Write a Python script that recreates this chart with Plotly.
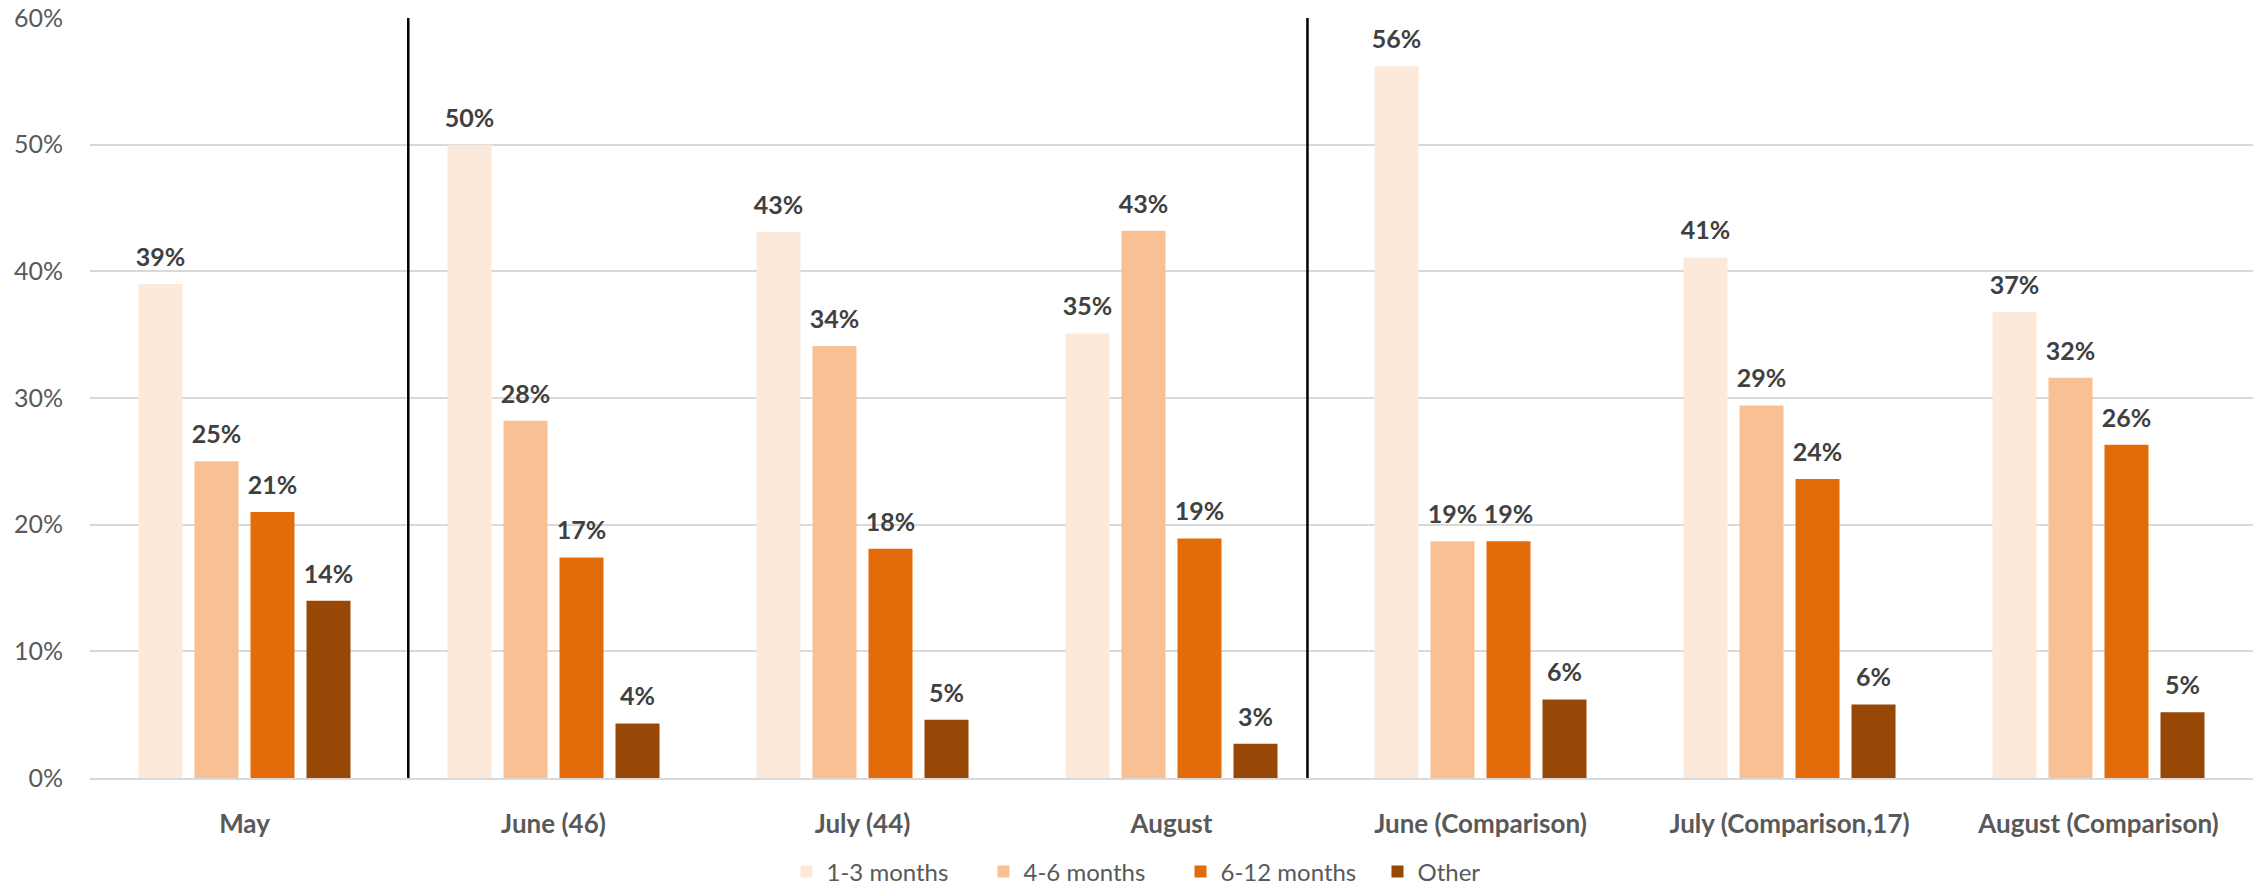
import plotly.graph_objects as go

categories = ["May", "June (46)", "July (44)", "August", "June (Comparison)",
              "July (Comparison,17)", "August (Comparison)"]
series_names = ["1-3 months", "4-6 months", "6-12 months", "Other"]
v_1_3 = [0.390, 0.500, 0.431, 0.351, 0.562, 0.411, 0.368]
v_4_6 = [0.250, 0.282, 0.341, 0.432, 0.187, 0.294, 0.316]
v_6_12 = [0.210, 0.174, 0.181, 0.189, 0.187, 0.236, 0.263]
v_other = [0.140, 0.043, 0.046, 0.027, 0.062, 0.058, 0.052]
colors = ["#FCE9DA", "#F9C193", "#E36C0A", "#974706"]
y_ticks = [0, 0.1, 0.2, 0.3, 0.4, 0.5, 0.6]
y_tick_text = ["0%", "10%", "20%", "30%", "40%", "50%", "60%"]
separators = [0.53, 3.44]
LABEL_GAP = 0.008  # visual gap between bar top and its value label (axis units)

FONT = "Lato"
fig = go.Figure()
for i, (name, vals, col) in enumerate(zip(series_names, [v_1_3, v_4_6, v_6_12, v_other], colors)):
    fig.add_trace(go.Bar(
        x=categories, y=vals, name=name, offsetgroup=str(i),
        marker=dict(color=col, line=dict(width=0)),
    ))
    # transparent spacer bar that carries the value label slightly above the bar
    fig.add_trace(go.Bar(
        x=categories, y=[LABEL_GAP] * len(vals), base=vals, offsetgroup=str(i),
        marker=dict(color="rgba(0,0,0,0)", line=dict(width=0)),
        text=[f"{v:.0%}" for v in vals], texttemplate="%{text}", textposition="outside",
        constraintext="none",
        textfont=dict(family=FONT, size=25, color="#404040", weight="bold"),
        cliponaxis=False, showlegend=False, hoverinfo="skip",
    ))

for sx in separators:
    fig.add_shape(type="line", xref="x", yref="y", x0=sx, x1=sx, y0=0, y1=0.603,
                  line=dict(color="black", width=2.5), layer="above")

fig.update_layout(
    width=2267, height=886,
    margin=dict(l=90, r=14, t=18, b=108, autoexpand=False),
    paper_bgcolor="white", plot_bgcolor="white",
    barmode="group", bargap=0.275, bargroupgap=0.214,
    font=dict(family=FONT, color="#595959"),
    showlegend=True,
    legend=dict(orientation="h", x=0.322, xanchor="left", y=-0.1237, yanchor="middle",
                font=dict(family=FONT, size=24, color="#595959"),
                entrywidth=152, entrywidthmode="pixels"),
    uniformtext=dict(mode=False),
)
fig.update_xaxes(
    tickfont=dict(family=FONT, size=26, color="#595959", weight="bold"),
    showgrid=False, showline=True, linecolor="#D9D9D9", linewidth=2,
    ticks="", ticklabelstandoff=22, automargin=False,
)
fig.update_yaxes(
    range=[0, 0.6], tickvals=y_ticks, ticktext=y_tick_text,
    tickfont=dict(family=FONT, size=25, color="#595959"),
    showgrid=True, gridcolor="#D9D9D9", gridwidth=2,
    zeroline=False, showline=False, ticks="", ticklabelstandoff=26, automargin=False,
    ticklabeloverflow="allow",
)

fig.write_html("out.html", config={"displayModeBar": False},
               post_script="document.body.style.margin='0';")
